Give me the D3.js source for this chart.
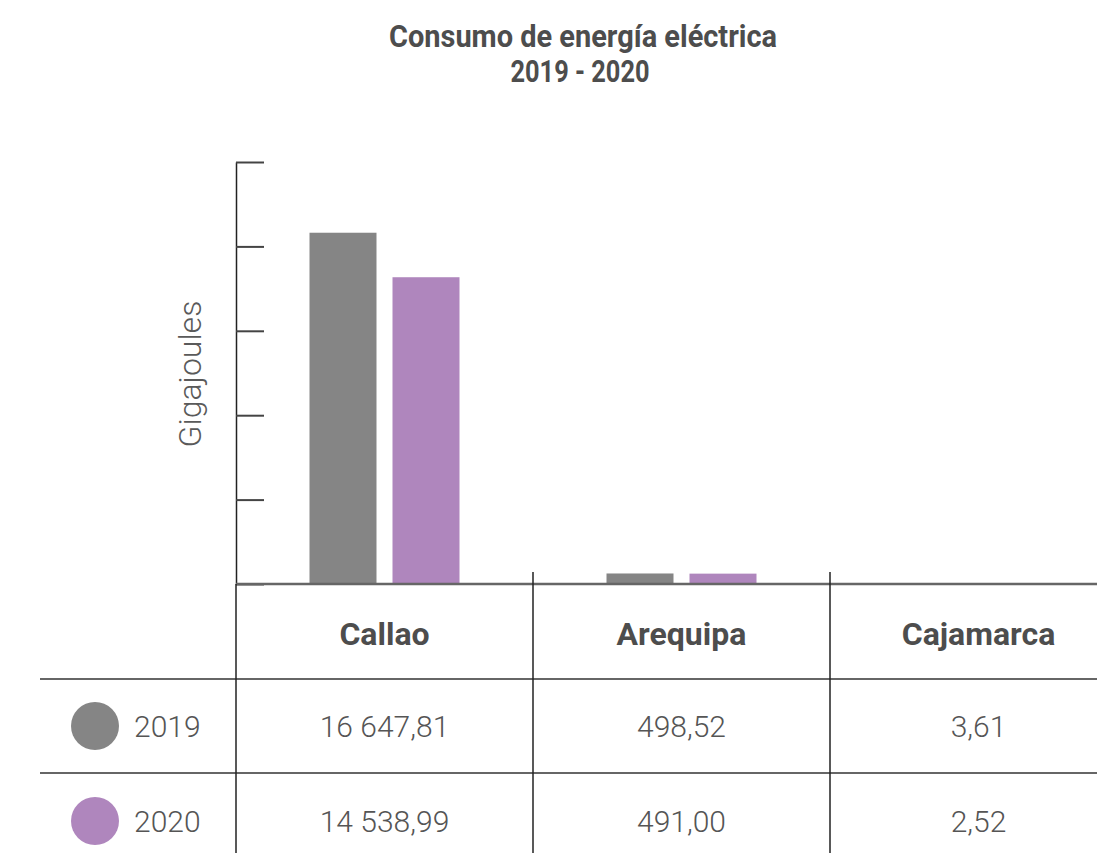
<!DOCTYPE html>
<html lang="es">
<head>
<meta charset="utf-8">
<script src="https://cdn.jsdelivr.net/npm/d3@7"></script>
<style>
  html, body { margin: 0; padding: 0; background: #fff; }
  svg { display: block; }
  .title { font-family: "Roboto", "Noto Sans", sans-serif; font-weight: 700; font-size: 32px; fill: #4d4d4d; }
  .ylabel { font-family: "Roboto", "Noto Sans", sans-serif; font-weight: 300; font-size: 32px; fill: #5a5a5a; }
  .cat { font-family: "Roboto", "Noto Sans", sans-serif; font-weight: 700; font-size: 32px; fill: #4d4d4d; }
  .cell { font-family: "Roboto", "Noto Sans", sans-serif; font-weight: 300; font-size: 30px; fill: #555; }
</style>
</head>
<body>
<svg id="chart" width="1097" height="853"></svg>
<script>
// Consumo de energía eléctrica por sede (Gigajoules)
const categories = ["Callao", "Arequipa", "Cajamarca"];
const years = ["2019", "2020"];
const values2019 = [16647.81, 498.52, 3.61];
const values2020 = [14538.99, 491.00, 2.52];
const labels2019 = ["16 647,81", "498,52", "3,61"];
const labels2020 = ["14 538,99", "491,00", "2,52"];
const yTicks = [0, 4000, 8000, 12000, 16000, 20000];
const colors = ["#858585", "#af86bd"];

const svg = d3.select("#chart");

const left = 236, colW = 297, baseY = 584, topY = 162;
const x = d3.scaleBand().domain(categories).range([left, left + colW * categories.length]);
const y = d3.scaleLinear().domain([0, 20000]).range([baseY, topY]);
const groupW = 150;
const xSub = d3.scaleBand().domain(years)
  .range([x.bandwidth() / 2 - groupW / 2, x.bandwidth() / 2 + groupW / 2])
  .paddingInner(16 / 83);
const color = d3.scaleOrdinal().domain(years).range(colors);

// Title, set in a condensed bold (two lines)
svg.append("text").attr("class", "title").attr("text-anchor", "middle")
  .attr("x", 583).attr("y", 47)
  .attr("textLength", 388).attr("lengthAdjust", "spacingAndGlyphs")
  .text("Consumo de energía eléctrica");
svg.append("text").attr("class", "title").attr("text-anchor", "middle")
  .attr("x", 580).attr("y", 82)
  .attr("textLength", 139).attr("lengthAdjust", "spacingAndGlyphs")
  .text("2019 - 2020");

// Y axis label
svg.append("text").attr("class", "ylabel")
  .attr("text-anchor", "middle")
  .attr("transform", "translate(201,374) rotate(-90)")
  .text("Gigajoules");

// Y axis: unlabeled ticks pointing into the plot
const yAxis = svg.append("g")
  .attr("transform", `translate(${left},0)`)
  .call(d3.axisRight(y).tickValues(yTicks).tickSize(28).tickSizeOuter(0).tickFormat(""));
yAxis.select(".domain").attr("stroke", "#222").attr("stroke-width", 1.5);
yAxis.selectAll(".tick line").attr("stroke", "#444").attr("stroke-width", 2);

// Bars
const rows = categories.map((c, i) => ({ cat: c, vals: [values2019[i], values2020[i]] }));
const groups = svg.append("g").selectAll("g").data(rows).join("g")
  .attr("transform", d => `translate(${x(d.cat)},0)`);
groups.selectAll("rect")
  .data(d => years.map((yr, j) => ({ yr, v: d.vals[j] })))
  .join("rect")
  .attr("x", d => xSub(d.yr))
  .attr("width", xSub.bandwidth())
  .attr("y", d => y(d.v))
  .attr("height", d => baseY - y(d.v))
  .attr("fill", d => color(d.yr));

// Data table below the bars
const rowH = 94;
const headerBottom = baseY + rowH + 1;
const tableLines = svg.append("g");
// baseline / table top
tableLines.append("line").attr("x1", left).attr("x2", 1097).attr("y1", baseY).attr("y2", baseY)
  .attr("stroke", "#666").attr("stroke-width", 2.5);
// row separators
[headerBottom, headerBottom + rowH].forEach(yy => {
  tableLines.append("line").attr("x1", 40).attr("x2", 1097).attr("y1", yy).attr("y2", yy)
    .attr("stroke", "#333").attr("stroke-width", 1.5);
});
// column separators
tableLines.append("line").attr("x1", left).attr("x2", left).attr("y1", baseY).attr("y2", 853)
  .attr("stroke", "#222").attr("stroke-width", 1.5);
categories.slice(1).forEach(c => {
  tableLines.append("line").attr("x1", x(c)).attr("x2", x(c)).attr("y1", 572).attr("y2", 853)
    .attr("stroke", "#222").attr("stroke-width", 1.5);
});

// header row: category names
svg.append("g").selectAll("text").data(categories).join("text")
  .attr("class", "cat").attr("text-anchor", "middle")
  .attr("x", d => x(d) + x.bandwidth() / 2).attr("y", 645)
  .text(d => d);

// value rows with legend swatches
const tableRows = [
  { yr: "2019", labels: labels2019, cy: 726 },
  { yr: "2020", labels: labels2020, cy: 821 }
];
tableRows.forEach(r => {
  svg.append("circle").attr("cx", 95).attr("cy", r.cy).attr("r", 24).attr("fill", color(r.yr));
  svg.append("text").attr("class", "cell").attr("x", 134).attr("y", r.cy + 11).text(r.yr);
  categories.forEach((c, i) => {
    svg.append("text").attr("class", "cell").attr("text-anchor", "middle")
      .attr("x", x(c) + x.bandwidth() / 2).attr("y", r.cy + 11)
      .text(r.labels[i]);
  });
});
</script>
</body>
</html>
